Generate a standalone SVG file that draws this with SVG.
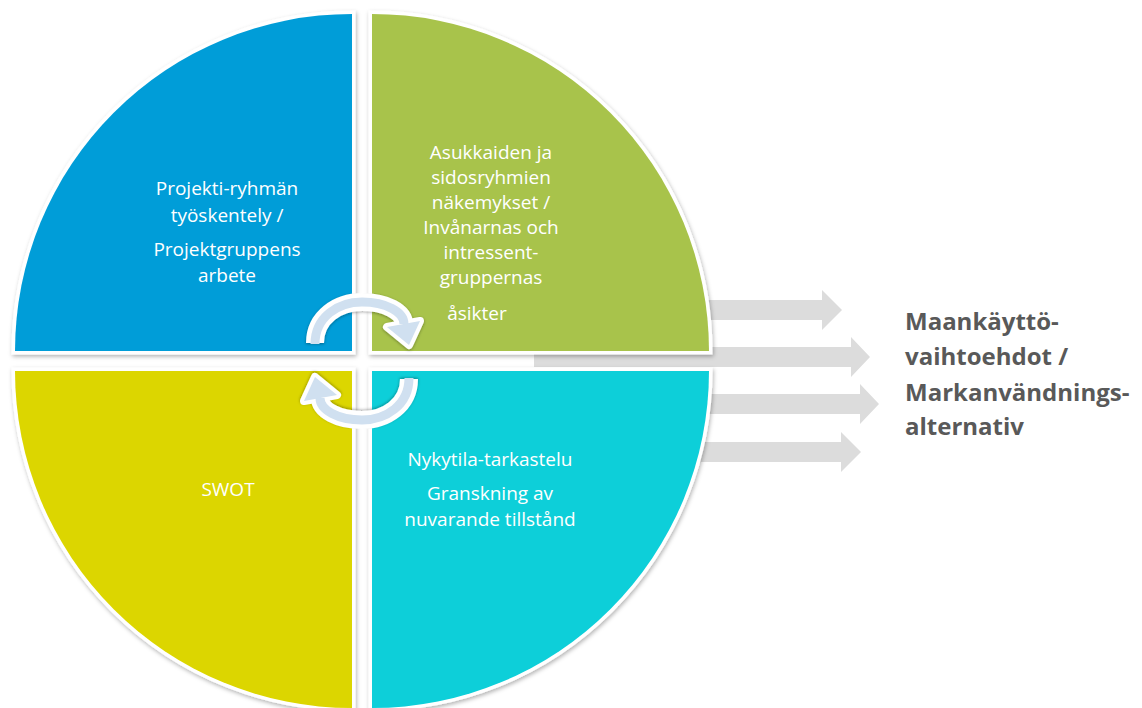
<svg xmlns="http://www.w3.org/2000/svg" width="1142" height="708" viewBox="0 0 1142 708">
<defs>
<style>
.q{stroke:#ffffff;stroke-width:7;paint-order:stroke;filter:url(#sh)}
.t{font-family:"Open Sans","Noto Sans","Liberation Sans",sans-serif;font-size:19px;fill:#ffffff;text-anchor:middle}
.lbl{font-family:"Open Sans","Noto Sans","Liberation Sans",sans-serif;font-size:24px;font-weight:bold;fill:#595959}
.ga{fill:#dcdcdc}
</style>
<filter id="sh" x="-10%" y="-10%" width="120%" height="120%">
<feDropShadow dx="1" dy="2" stdDeviation="2" flood-color="#000" flood-opacity="0.3"/>
</filter>
<filter id="sh2" x="-20%" y="-20%" width="140%" height="140%">
<feDropShadow dx="0" dy="1" stdDeviation="1.5" flood-color="#000" flood-opacity="0.35"/>
</filter>
<g id="cycArrow">
<g filter="url(#sh2)">
<path d="M315,343 C315,317 338,302 362,302 C386,302 404,312 404,324" fill="none" stroke="#ffffff" stroke-width="18"/>
<polygon points="387,327 420,321 409,345" fill="#ffffff" stroke="#ffffff" stroke-width="8" stroke-linejoin="round"/>
</g>
<path d="M315,344 C315,317 338,302 362,302 C386,302 404,312 404,324" fill="none" stroke="#d0e0f0" stroke-width="9"/>
<polygon points="387,327 420,321 409,345" fill="#d0e0f0"/>
</g>
</defs>
<rect width="1142" height="708" fill="#ffffff"/>
<g id="connectors">
<polygon class="ga" points="600,300 822,300 822,290 842,310 822,330 822,320 600,320"/>
<polygon class="ga" points="534,347 851,347 851,337 870,357 851,377 851,367 534,367"/>
<polygon class="ga" points="600,394 860,394 860,384 879,404 860,424 860,414 600,414"/>
<polygon class="ga" points="600,442 841,442 841,432 861,452 841,472 841,462 600,462"/>
</g>
<g id="q-blue">
<path class="q" d="M352,351 L15,351 A337,337 0 0 1 352,14 Z" fill="#039dd8"/>
<text class="t"><tspan x="227" y="195">Projekti-ryhmän</tspan><tspan x="227" y="222">työskentely /</tspan><tspan x="227" y="256">Projektgruppens</tspan><tspan x="227" y="282">arbete</tspan></text>
</g>
<g id="q-green">
<path class="q" d="M372,351 L372,14 A337,337 0 0 1 709,351 Z" fill="#a8c34b"/>
<text class="t"><tspan x="491" y="159">Asukkaiden ja</tspan><tspan x="491" y="184">sidosryhmien</tspan><tspan x="491" y="209">näkemykset /</tspan><tspan x="491" y="234">Invånarnas och</tspan><tspan x="491" y="259">intressent-</tspan><tspan x="491" y="284">gruppernas</tspan><tspan x="477" y="320">åsikter</tspan></text>
</g>
<g id="q-yellow">
<path class="q" d="M352,371 L352,708 A337,337 0 0 1 15,371 Z" fill="#dcd600"/>
<text class="t" x="228" y="496">SWOT</text>
</g>
<g id="q-cyan">
<path class="q" d="M372,371 L709,371 A337,337 0 0 1 372,708 Z" fill="#0ccfd9"/>
<text class="t"><tspan x="490" y="466">Nykytila-tarkastelu</tspan><tspan x="490" y="500">Granskning av</tspan><tspan x="490" y="526">nuvarande tillstånd</tspan></text>
</g>
<g id="cycle-arrows">
<use href="#cycArrow"/>
<use href="#cycArrow" transform="rotate(180 362 361)"/>
</g>
<g id="result">
<text class="lbl"><tspan x="905" y="330">Maankäyttö-</tspan><tspan x="905" y="365">vaihtoehdot /</tspan><tspan x="905" y="401">Markanvändnings-</tspan><tspan x="905" y="435">alternativ</tspan></text>
</g>
</svg>
